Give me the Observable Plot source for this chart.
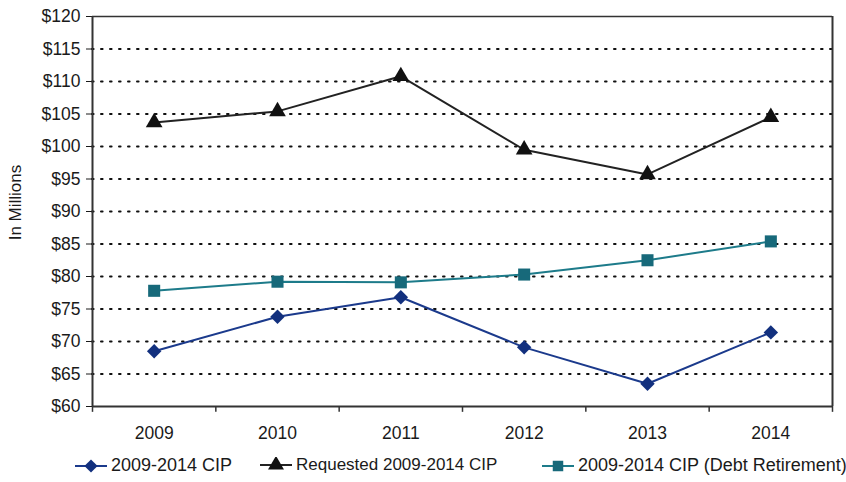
<!DOCTYPE html>
<html>
<head>
<meta charset="utf-8">
<script src="https://cdn.jsdelivr.net/npm/d3@7"></script>
<script src="https://cdn.jsdelivr.net/npm/@observablehq/plot@0.6"></script>
<style>
  body { margin: 0; background: #fff; font-family: "Liberation Sans", Arial, sans-serif; }
  #wrap { position: relative; width: 846px; height: 482px; }
  #legend { position: absolute; left: 0; top: 452px; width: 846px; height: 30px; font-size: 18px; color: #1a1a1a; }
  .item { position: absolute; top: 3px; display: flex; align-items: center; white-space: nowrap; }
  .item svg { margin-right: 4px; }
</style>
</head>
<body>
<div id="wrap">
  <div id="chart"></div>
  <div id="legend"></div>
</div>
<script>
const years = [2009, 2010, 2011, 2012, 2013, 2014];
const cip = [68.5, 73.8, 76.8, 69.1, 63.5, 71.4];
const requested = [103.7, 105.4, 110.8, 99.5, 95.7, 104.5];
const debt = [77.8, 79.2, 79.1, 80.3, 82.5, 85.4];
const yTicks = [60, 65, 70, 75, 80, 85, 90, 95, 100, 105, 110, 115, 120];
const seriesNames = ["2009-2014 CIP", "Requested 2009-2014 CIP", "2009-2014 CIP (Debt Retirement)"];
const seriesColors = ["#1b3a8c", "#222222", "#1d7b8a"];
const markerColors = ["#12307e", "#111111", "#17697a"];
const seriesSymbols = ["diamond2", "triangle", "square"];
const seriesValues = [cip, requested, debt];

const rows = [];
seriesNames.forEach((name, i) => years.forEach((yr, j) => rows.push({series: name, year: yr, value: seriesValues[i][j]})));
const bounds = d3.range(years[0] - 0.5, years[years.length - 1] + 1, 1);

const chart = Plot.plot({
  width: 846,
  height: 452,
  marginLeft: 92,
  marginRight: 14,
  marginTop: 16,
  marginBottom: 46,
  style: {fontFamily: "'Liberation Sans', Arial, sans-serif", fontSize: "17.5px", color: "#1a1a1a", background: "#fff"},
  x: {domain: [years[0] - 0.5, years[years.length - 1] + 0.5], ticks: years, tickFormat: d => String(d), tickSize: 0, tickPadding: 20, label: null},
  y: {domain: [60, 120], ticks: yTicks, tickFormat: d => "$" + d, tickSize: 6, tickPadding: 6, label: null},
  marks: [
    Plot.ruleY(yTicks.slice(1, -1), {stroke: "#111", strokeWidth: 2, strokeDasharray: "1.6,7.4", strokeLinecap: "round"}),
    Plot.ruleY([120], {stroke: "#333", strokeWidth: 1.5}),
    Plot.ruleY([60], {stroke: "#333", strokeWidth: 2}),
    Plot.ruleX([bounds[0]], {stroke: "#333", strokeWidth: 2}),
    Plot.ruleX([bounds[bounds.length - 1]], {stroke: "#333", strokeWidth: 2}),
    Plot.ruleX(bounds, {y1: 60, y2: 59.1, stroke: "#333", strokeWidth: 1.5}),
    Plot.text(["In Millions"], {frameAnchor: "left", textAnchor: "middle", rotate: -90, dx: -77, dy: -9, fontSize: 17, fill: "#1a1a1a"}),
    Plot.line(rows, {x: "year", y: "value", z: "series", stroke: d => d.series, strokeWidth: 2}),
    Plot.dot(rows.filter(d => d.series === seriesNames[0]), {x: "year", y: "value", symbol: "diamond2", r: 6.5, fill: markerColors[0], stroke: "none"}),
    Plot.dot(rows.filter(d => d.series === seriesNames[1]), {x: "year", y: "value", symbol: "triangle", r: 6.2, fill: markerColors[1], stroke: "none"}),
    Plot.dot(rows.filter(d => d.series === seriesNames[2]), {x: "year", y: "value", symbol: "square", r: 6.8, fill: markerColors[2], stroke: "none"})
  ],
  color: {domain: seriesNames, range: seriesColors}
});
document.getElementById("chart").appendChild(chart);

// legend
const legend = document.getElementById("legend");
const lefts = [75, 260, 542];
const legendSizes = [18, 17, 18];
seriesNames.forEach((name, i) => {
  const item = document.createElement("div");
  item.className = "item";
  item.style.left = lefts[i] + "px";
  item.style.fontSize = legendSizes[i] + "px";
  const sym = d3.symbol(seriesSymbols[i] === "diamond2" ? d3.symbolDiamond2 : seriesSymbols[i] === "triangle" ? d3.symbolTriangle : d3.symbolSquare, 110)();
  item.innerHTML = `<svg width="32" height="16"><line x1="0" y1="8" x2="32" y2="8" stroke="${seriesColors[i]}" stroke-width="2"/><path d="${sym}" transform="translate(16,8)" fill="${markerColors[i]}"/></svg><span>${name}</span>`;
  legend.appendChild(item);
});
</script>
</body>
</html>
